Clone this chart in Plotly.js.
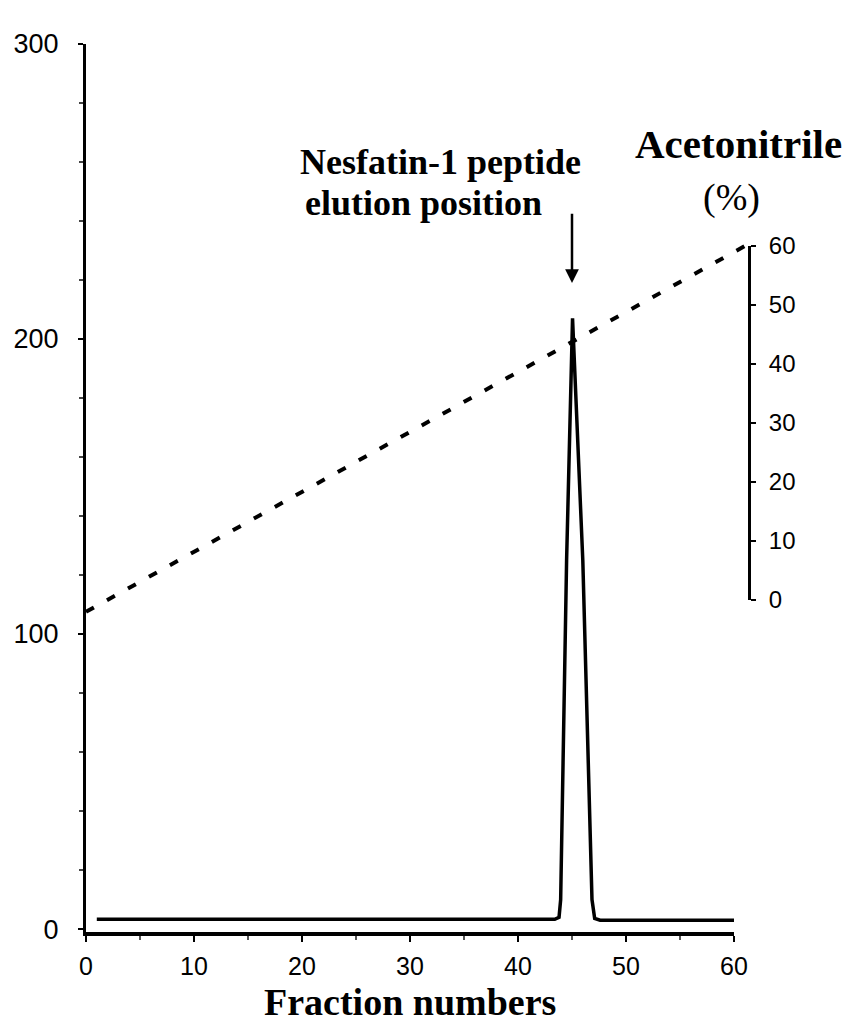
<!DOCTYPE html>
<html>
<head>
<meta charset="utf-8">
<script src="https://cdn.plot.ly/plotly-3.0.1.min.js"></script>
<style>html,body{margin:0;padding:0;background:#fff;}#chart{width:850px;height:1027px;}</style>
</head>
<body>
<div id="chart"></div>
<script>
// Absorbance profile (left axis) vs fraction number
const fractionX = [1, 43.4, 43.8, 43.95, 44.5, 45.05, 46.0, 46.85, 47.1, 47.6, 60];
const signalY   = [3.3, 3.3, 4, 10, 125, 207, 125, 10, 3.6, 3.0, 3.0];
// Acetonitrile gradient (right axis, %)
const gradientX   = [0, 61];
const gradientPct = [-2, 60];
// Tick labels
const xTicks = [0, 10, 20, 30, 40, 50, 60];
const yTicks = [0, 100, 200, 300];
const y2Ticks = [0, 10, 20, 30, 40, 50, 60];

const sans = "Liberation Sans, Arial, sans-serif";
const serif = "Liberation Serif, Times New Roman, serif";

const traces = [
  {x: fractionX, y: signalY, type: 'scatter', mode: 'lines',
   line: {color: '#000', width: 3.5}, xaxis: 'x', yaxis: 'y', hoverinfo: 'skip'},
  {x: gradientX, y: gradientPct, type: 'scatter', mode: 'lines',
   line: {color: '#000', width: 4, dash: '9px,15px'}, xaxis: 'x2', yaxis: 'y3', hoverinfo: 'skip'},
  {x: [], y: [], type: 'scatter', mode: 'lines', xaxis: 'x2', yaxis: 'y2', hoverinfo: 'skip'}
];

const layout = {
  width: 850, height: 1027,
  margin: {l: 86, r: 102, t: 44, b: 95},
  paper_bgcolor: '#fff', plot_bgcolor: 'rgba(0,0,0,0)',
  showlegend: false,
  xaxis: {
    domain: [0, 648/662], range: [0, 60], anchor: 'y',
    tickvals: xTicks, ticktext: xTicks.map(String),
    showline: true, linecolor: '#000', linewidth: 3.5,
    ticks: 'outside', ticklen: 6, tickwidth: 2.5, tickcolor: '#000',
    minor: {dtick: 5, tick0: 0, ticks: 'outside', ticklen: 4, tickwidth: 2, tickcolor: '#555'},
    showgrid: false, zeroline: false,
    tickfont: {family: sans, size: 25, color: '#000'},
    ticklabelstandoff: 3
  },
  yaxis: {
    domain: [0, 1], range: [-1, 300], anchor: 'x',
    tickvals: yTicks, ticktext: yTicks.map(String),
    showline: true, linecolor: '#000', linewidth: 3,
    ticks: 'outside', ticklen: 5, tickwidth: 2.5, tickcolor: '#000',
    minor: {dtick: 20, tick0: 0, ticks: 'outside', ticklen: 4, tickwidth: 2, tickcolor: '#444'},
    showgrid: false, zeroline: false,
    tickfont: {family: sans, size: 27, color: '#000'},
    ticklabelstandoff: 14
  },
  xaxis2: {domain: [0, 1], range: [0, 662/10.8], anchor: 'y3', visible: false},
  yaxis3: {domain: [0, 1], range: [-56.27, 94.24], anchor: 'x2', visible: false},
  yaxis2: {
    domain: [(932-600)/888, (932-246)/888], range: [0, 60], anchor: 'x2', side: 'right',
    tickvals: y2Ticks, ticktext: y2Ticks.map(String),
    showline: true, linecolor: '#000', linewidth: 3,
    ticks: 'outside', ticklen: 5, tickwidth: 2.5, tickcolor: '#000',
    showgrid: false, zeroline: false,
    tickfont: {family: sans, size: 24, color: '#000'},
    ticklabelstandoff: 8
  },
  annotations: [
    {xref: 'paper', yref: 'paper', x: (648/662)/2, y: -(1002-932)/888, xanchor: 'center', yanchor: 'middle',
     text: 'Fraction numbers', showarrow: false, borderpad: 0,
     font: {family: serif, size: 38, color: '#000', weight: 'bold'}},
    {xref: 'x', yref: 'y', x: 19.63, y: 260, xanchor: 'left', yanchor: 'middle',
     text: 'Nesfatin-1 peptide', showarrow: false,
     font: {family: serif, size: 36, color: '#000', weight: 'bold'}},
    {xref: 'x', yref: 'y', x: 20.09, y: 246.1, xanchor: 'left', yanchor: 'middle',
     text: 'elution position', showarrow: false,
     font: {family: serif, size: 36, color: '#000', weight: 'bold'}},
    {xref: 'x', yref: 'y', x: 45, y: 219, axref: 'x', ayref: 'y', ax: 45, ay: 243,
     text: '', showarrow: true, arrowhead: 2, arrowsize: 1.1, arrowwidth: 2.5, arrowcolor: '#000'},
    {xref: 'x2', yref: 'y', x: 60.4, y: 266, xanchor: 'center', yanchor: 'middle',
     text: 'Acetonitrile', showarrow: false,
     font: {family: serif, size: 41, color: '#000', weight: 'bold'}},
    {xref: 'x2', yref: 'y', x: 59.8, y: 248, xanchor: 'center', yanchor: 'middle',
     text: '(%)', showarrow: false,
     font: {family: serif, size: 38, color: '#000'}}
  ]
};

Plotly.newPlot('chart', traces, layout, {staticPlot: true});
</script>
</body>
</html>
